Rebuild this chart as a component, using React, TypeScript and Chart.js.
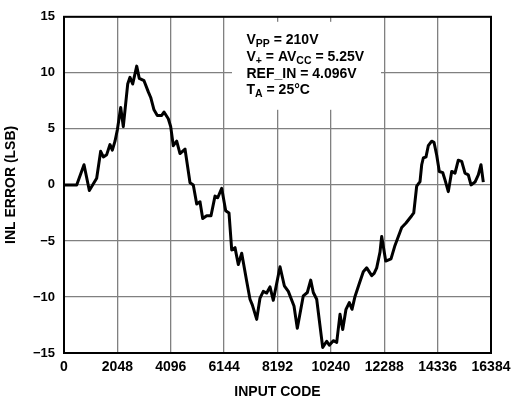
import React, { useEffect, useRef } from "react";
import { Chart, registerables } from "chart.js";

Chart.register(...registerables);

// Input codes and INL error (LSB)
const inputCodes = [
  0, 487, 768, 972, 1254, 1407, 1510, 1638, 1765, 1855, 1957, 2046, 2176, 2275,
  2444, 2532, 2636, 2790, 2889, 3070, 3235, 3327, 3453, 3580, 3749, 3837, 4002,
  4094, 4194, 4324, 4451, 4643, 4835, 4961, 5092, 5218, 5322, 5475, 5640, 5794,
  5898, 6051, 6204, 6331, 6435, 6561, 6688, 6819, 7010, 7137, 7226, 7394, 7521,
  7647, 7778, 7904, 8031, 8289, 8454, 8607, 8825, 8952, 9182, 9336, 9466, 9566,
  9696, 9926, 10080, 10180, 10333, 10464, 10590, 10694, 10820, 10947, 11051,
  11166, 11331, 11484, 11615, 11807, 11900, 11998, 12125, 12190, 12344, 12547,
  12700, 12958, 13123, 13342, 13420, 13533, 13660, 13725, 13787, 13890, 13978,
  14109, 14197, 14301, 14401, 14531, 14619, 14746, 14876, 15003, 15129, 15260,
  15386, 15513, 15617, 15770, 15897, 16000, 16089,
];
const inlError = [
  0, 0, 1.8, -0.5, 0.6, 3.0, 2.5, 2.7, 3.6, 3.1, 3.9, 4.9, 6.9, 5.2,
  9.0, 9.6, 9.0, 10.6, 9.5, 9.3, 8.3, 7.8, 6.7, 6.2, 6.2, 6.5, 5.9,
  5.2, 3.5, 3.9, 2.8, 3.2, 0.2, 0, -1.7, -1.5, -3.0, -2.75, -2.75, -1.0,
  -1.15, -0.3, -2.3, -2.5, -5.8, -5.6, -7.1, -6.1, -8.6, -10.2, -10.7, -12.0, -10.1,
  -9.5, -9.65, -9.1, -10.3, -7.3, -9.0, -9.5, -10.8, -12.8, -9.9, -9.6, -8.5, -9.6,
  -10.2, -14.5, -13.95, -14.3, -13.9, -14.05, -11.55, -12.9, -11.1, -10.5, -11.1,
  -9.95, -8.8, -7.75, -7.4, -8.1, -7.9, -7.4, -6.0, -4.6, -6.8, -6.6,
  -5.4, -3.8, -3.4, -2.75, -2.5, -0.1, 0.3, 1.8, 2.4, 2.5, 3.5,
  3.9, 3.8, 2.65, 1.2, 1.1, 0.45, -0.6, 1.2, 1.05, 2.2, 2.1,
  1.05, 0.9, 0, 0.25, 0.9, 1.8, 0.25,
];

const xAxisTitle = "INPUT CODE";
const yAxisTitle = "INL ERROR (LSB)";
const xMin = 0;
const xMax = 16384;
const xStep = 2048;
const yMin = -15;
const yMax = 15;
const yStep = 5;

// Annotation lines: segments, subscripts flagged
const annotationLines: { t: string; sub?: boolean }[][] = [
  [{ t: "V" }, { t: "PP", sub: true }, { t: " = 210V" }],
  [{ t: "V" }, { t: "+", sub: true }, { t: " = AV" }, { t: "CC", sub: true }, { t: " = 5.25V" }],
  [{ t: "REF_IN = 4.096V" }],
  [{ t: "T" }, { t: "A", sub: true }, { t: " = 25°C" }],
];

const FONT = '"Liberation Sans", Arial, Helvetica, sans-serif';

const annotationPlugin = {
  id: "annotationBox",
  beforeDatasetsDraw(chart: any) {
    const { ctx, chartArea } = chart;
    const left = chartArea.left;
    const top = chartArea.top;
    ctx.save();
    ctx.fillStyle = "#ffffff";
    ctx.fillRect(left + 168, top + 5, 149, 88);
    ctx.fillStyle = "#000000";
    ctx.textBaseline = "alphabetic";
    ctx.textAlign = "left";
    annotationLines.forEach((line, i) => {
      let x = left + 182.5;
      const baseY = top + 27.5 + i * 16.7;
      line.forEach((seg) => {
        if (seg.sub) {
          ctx.font = `bold 10.5px ${FONT}`;
          ctx.fillText(seg.t, x, baseY + 3);
        } else {
          ctx.font = `bold 14px ${FONT}`;
          ctx.fillText(seg.t, x, baseY);
        }
        x += ctx.measureText(seg.t).width;
      });
    });
    ctx.restore();
  },
  afterDraw(chart: any) {
    const { ctx, chartArea } = chart;
    ctx.save();
    ctx.strokeStyle = "#000000";
    ctx.lineWidth = 2;
    ctx.strokeRect(
      chartArea.left,
      chartArea.top,
      chartArea.right - chartArea.left,
      chartArea.bottom - chartArea.top
    );
    ctx.restore();
  },
};

export default function App() {
  const canvasRef = useRef<HTMLCanvasElement | null>(null);

  useEffect(() => {
    if (!canvasRef.current) return;
    const data = inputCodes.map((c, i) => ({ x: c, y: inlError[i] }));
    const chart = new Chart(canvasRef.current, {
      type: "line",
      data: {
        datasets: [
          {
            data,
            borderColor: "#000000",
            borderWidth: 3,
            pointRadius: 0,
            tension: 0,
            fill: false,
            borderJoinStyle: "round",
          },
        ],
      },
      options: {
        animation: false,
        responsive: false,
        maintainAspectRatio: false,
        layout: { padding: { left: 0, right: 39, top: 12, bottom: 0 } },
        plugins: { legend: { display: false }, tooltip: { enabled: false } },
        scales: {
          x: {
            type: "linear",
            min: xMin,
            max: xMax,
            grid: { color: "#808080", lineWidth: 1.3, drawTicks: false },
            border: { display: false },
            ticks: {
              stepSize: xStep,
              autoSkip: false,
              maxRotation: 0,
              padding: 6,
              color: "#000000",
              font: { family: FONT, size: 14, weight: "bold" },
              callback: (v: any) => String(v),
            },
            title: {
              display: true,
              text: xAxisTitle,
              color: "#000000",
              font: { family: FONT, size: 14, weight: "bold" },
              padding: { top: 0, bottom: 1 },
            },
            afterFit: (s: any) => {
              s.height = 49;
            },
          },
          y: {
            type: "linear",
            min: yMin,
            max: yMax,
            grid: { color: "#808080", lineWidth: 1.3, drawTicks: false },
            border: { display: false },
            ticks: {
              stepSize: yStep,
              padding: 9,
              color: "#000000",
              font: { family: FONT, size: 13, weight: "bold" },
              callback: (v: any) => String(v).replace("-", "\u2212"),
            },
            title: {
              display: true,
              text: yAxisTitle,
              color: "#000000",
              font: { family: FONT, size: 14, weight: "bold" },
              padding: { top: 3, bottom: 0 },
            },
            afterFit: (s: any) => {
              s.width = 64;
            },
          },
        },
      },
      plugins: [annotationPlugin],
    } as any);
    return () => chart.destroy();
  }, []);

  return (
    <div style={{ position: "fixed", left: 0, top: 0, width: 530, height: 402, background: "#fff" }}>
      <canvas ref={canvasRef} width={530} height={402} style={{ width: 530, height: 402 }} />
    </div>
  );
}
